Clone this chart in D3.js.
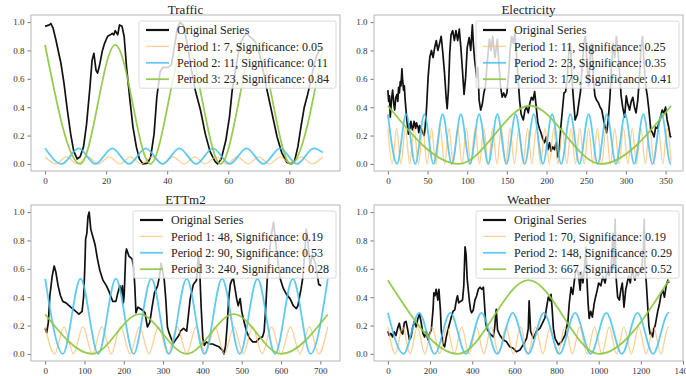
<!DOCTYPE html>
<html>
<head>
<meta charset="utf-8">
<script src="https://cdn.jsdelivr.net/npm/d3@7"></script>
<style>
  body { margin: 0; background: #fff; }
  svg text { font-family: "Liberation Serif", "Times New Roman", serif; }
</style>
</head>
<body>
<svg id="chart" width="686" height="376"></svg>
<script>
// ---- data: [x, value] ----
const trafficOrig = [[0,0.97],[1.4,0.98],[1.9,0.99],[2.6,0.96],[3.6,0.87],[4.3,0.8],[5.2,0.71],[6.2,0.57],[7.3,0.38],[8.4,0.21],[9.4,0.09],[10.5,0.035],[11.5,0.05],[12.6,0.12],[13.6,0.28],[14.7,0.54],[15.4,0.73],[16,0.78],[16.7,0.66],[17.2,0.64],[17.8,0.69],[18.8,0.8],[19.5,0.85],[20.5,0.9],[21.4,0.91],[22,0.92],[22.5,0.91],[23,0.94],[23.8,0.91],[24.4,0.98],[25.2,0.97],[25.9,0.9],[26.7,0.68],[27.8,0.45],[28.8,0.26],[29.9,0.12],[30.9,0.035],[32.1,0],[33.6,0.005],[34.6,0.05],[35.7,0.21],[36.6,0.47],[37.7,0.65],[38.5,0.68],[40.4,0.68],[41.4,0.7],[42.3,0.82],[43.3,0.95],[44.2,1.0],[45.2,0.98],[46.1,0.9],[47.1,0.78],[48,0.66],[49.2,0.52],[50.9,0.38],[52.5,0.21],[54,0.09],[55.6,0.02],[56.5,0],[57.7,0.035],[59.2,0.165],[60.4,0.33],[61.3,0.52],[62.3,0.65],[63.2,0.77],[64.2,0.86],[65.1,0.9],[66.1,0.92],[67,0.9],[68,0.88],[68.9,0.86],[69.9,0.8],[70.8,0.72],[71.8,0.62],[72.7,0.52],[73.9,0.4],[75,0.29],[76,0.19],[77.5,0.08],[79.2,0.01],[80.7,0],[81.7,0.02],[82.8,0.12],[83.8,0.26],[84.9,0.4],[86,0.49],[87,0.58],[87.9,0.68],[88.9,0.76],[89.8,0.8],[91,0.82]];
const trafficP1 = [[0,.05],[3.5,0],[7,.05],[10.5,0],[14,.05],[17.5,0],[21,.05],[24.5,0],[28,.05],[31.5,0],[35,.05],[38.5,0],[42,.05],[45.5,0],[49,.05],[52.5,0],[56,.05],[59.5,0],[63,.05],[66.5,0],[70,.05],[73.5,0],[77,.05],[80.5,0],[84,.05],[87.5,0],[91,.05]];
const trafficP2 = [[0,.11],[5.5,0],[11,.11],[16.5,0],[22,.11],[27.5,0],[33,.11],[38.5,0],[44,.11],[49.5,0],[55,.11],[60.5,0],[66,.11],[71.5,0],[77,.11],[82.5,0],[88,.11],[91,.08]];
const trafficP3 = [[0,.84],[11.5,0],[23,.84],[34.5,0],[46,.84],[57.5,0],[69,.84],[80.5,0],[91,.82]];

const elecOrig = [[0,0.52],[1,0.44],[2,0.48],[3,0.33],[4.5,0.45],[6,0.52],[7.5,0.42],[8.6,0.38],[10,0.47],[11.5,0.49],[12.5,0.44],[13.5,0.54],[14.5,0.5],[15.6,0.58],[16.5,0.55],[17.7,0.67],[18.5,0.6],[19.7,0.52],[20.7,0.55],[21.8,0.45],[23.9,0.31],[25.9,0.21],[27,0.28],[28,0.25],[29,0.3],[30,0.27],[31,0.24],[32,0.26],[33,0.3],[34,0.28],[35,0.25],[36,0.29],[37,0.27],[38,0.26],[39,0.22],[40,0.27],[41.3,0.25],[42.5,0.24],[44,0.22],[45.8,0.2],[47,0.26],[48.6,0.38],[50.7,0.61],[52.8,0.75],[54.9,0.8],[57,0.75],[59,0.82],[61,0.87],[63,0.8],[65.2,0.85],[67.2,0.9],[69.3,0.78],[71.4,0.64],[73.4,0.47],[74.7,0.39],[76.3,0.52],[78,0.78],[79.6,0.91],[81.7,0.94],[83.8,0.87],[85.8,0.94],[88,0.87],[90,0.95],[92,0.82],[94,0.66],[96,0.49],[98,0.61],[100,0.82],[102.4,0.89],[104.4,0.8],[106.5,0.98],[107.7,0.85],[109.4,0.73],[112,0.61],[113.5,0.68],[115,0.45],[117,0.38],[119,0.42],[121,0.5],[123,0.55],[125,0.7],[128,0.88],[130,0.8],[132,0.9],[135,0.75],[138,0.88],[140,0.7],[142,0.55],[144,0.47],[146,0.5],[148,0.47],[150,0.5],[152,0.62],[154,0.8],[156,0.9],[158,0.85],[160,0.92],[163,0.7],[166,0.45],[168,0.35],[170.7,0.31],[172.8,0.38],[174.8,0.4],[177,0.36],[179,0.43],[181,0.47],[183,0.45],[185,0.51],[187,0.4],[189,0.29],[191,0.25],[193,0.22],[195,0.18],[197.5,0.15],[199.5,0.19],[201.6,0.1],[203.7,0.15],[205.5,0.09],[207.8,0.12],[210,0.1],[212,0.15],[214,0.05],[216,0.1],[218,0.26],[220,0.38],[222,0.5],[224,0.51],[226,0.6],[228,0.78],[230,0.85],[232,0.6],[234,0.45],[236,0.31],[238.7,0.35],[240.7,0.43],[242.8,0.51],[245,0.7],[247,0.85],[249,0.9],[251,0.7],[253,0.55],[255,0.75],[257,0.85],[259,0.6],[261,0.48],[263,0.45],[265.5,0.43],[267.5,0.4],[269.6,0.38],[271.6,0.32],[273.7,0.26],[275.8,0.22],[277.8,0.31],[280,0.48],[282,0.7],[284,0.85],[286,0.75],[288,0.9],[290,0.8],[292,0.65],[294,0.48],[296,0.4],[298.4,0.33],[300.5,0.48],[302.5,0.42],[304.6,0.38],[306.7,0.44],[308.7,0.47],[310.8,0.4],[312.8,0.36],[315,0.45],[317,0.6],[319,0.82],[321,0.9],[323,0.7],[325,0.55],[327,0.48],[329,0.38],[331.4,0.24],[333.5,0.22],[335.5,0.19],[337.6,0.26],[339.7,0.25],[341.7,0.29],[343.8,0.33],[345.8,0.38],[348,0.36],[350,0.4],[352,0.31],[354,0.26],[356,0.19],[357,0.2]];
const elecP1 = [[0,.25],[5.5,0],[11,.25],[16.5,0],[22,.25],[27.5,0],[33,.25],[38.5,0],[44,.25],[49.5,0],[55,.25],[60.5,0],[66,.25],[71.5,0],[77,.25],[82.5,0],[88,.25],[93.5,0],[99,.25],[104.5,0],[110,.25],[115.5,0],[121,.25],[126.5,0],[132,.25],[137.5,0],[143,.25],[148.5,0],[154,.25],[159.5,0],[165,.25],[170.5,0],[176,.25],[181.5,0],[187,.25],[192.5,0],[198,.25],[203.5,0],[209,.25],[214.5,0],[220,.25],[225.5,0],[231,.25],[236.5,0],[242,.25],[247.5,0],[253,.25],[258.5,0],[264,.25],[269.5,0],[275,.25],[280.5,0],[286,.25],[291.5,0],[297,.25],[302.5,0],[308,.25],[313.5,0],[319,.25],[324.5,0],[330,.25],[335.5,0],[341,.25],[346.5,0],[352,.25],[357,.01]];
const elecP2 = [[0,.35],[11.5,0],[23,.35],[34.5,0],[46,.35],[57.5,0],[69,.35],[80.5,0],[92,.35],[103.5,0],[115,.35],[126.5,0],[138,.35],[149.5,0],[161,.35],[172.5,0],[184,.35],[195.5,0],[207,.35],[218.5,0],[230,.35],[241.5,0],[253,.35],[264.5,0],[276,.35],[287.5,0],[299,.35],[310.5,0],[322,.35],[333.5,0],[345,.35],[356.5,0],[357,0]];
const elecP3 = [[0,.41],[89.5,0],[179,.41],[268.5,0],[357,.41]];

const ettOrig = [[0,0.18],[4,0.15],[8,0.22],[12,0.41],[18,0.55],[23,0.62],[27,0.58],[33,0.48],[39,0.41],[45,0.37],[53,0.36],[65,0.33],[78,0.3],[86,0.28],[94,0.3],[98,0.41],[101,0.62],[103,0.81],[106,0.85],[109,0.97],[112,1.0],[116,0.88],[121,0.83],[127,0.77],[133,0.67],[139,0.59],[147,0.52],[156,0.48],[164,0.43],[172,0.37],[180,0.37],[184,0.42],[190,0.48],[194,0.43],[196.5,0.48],[199,0.36],[201,0.41],[205,0.71],[207,0.74],[213,0.69],[221,0.67],[225,0.62],[228,0.48],[231,0.29],[236,0.33],[241,0.32],[247,0.31],[254,0.29],[260,0.19],[266,0.22],[272,0.33],[278,0.43],[286,0.48],[291,0.55],[295,0.64],[299,0.58],[303,0.52],[307,0.38],[311,0.19],[315,0.15],[319,0.12],[326,0.075],[332,0.1],[340,0.13],[344,0.16],[352,0.18],[360,0.16],[369,0.39],[377,0.49],[385,0.52],[390,0.7],[393,0.6],[397,0.32],[401,0.11],[405,0.06],[410,0.085],[418,0.07],[426,0.07],[434,0.06],[442,0.05],[451,0.026],[455,0],[459,0.06],[463,0.2],[467,0.39],[471,0.49],[475,0.52],[479,0.53],[483,0.46],[487,0.39],[491,0.34],[496,0.39],[500,0.3],[504,0.25],[512,0.16],[520,0.11],[528,0.085],[537,0.085],[545,0.11],[553,0.12],[557,0.16],[561,0.32],[565,0.53],[570,0.7],[576,0.85],[581,0.93],[586,0.8],[592,0.65],[598,0.53],[606,0.46],[614,0.42],[623,0.39],[631,0.34],[639,0.32],[643,0.34],[651,0.46],[655,0.53],[660,0.7],[664,0.88],[668,0.8],[674,0.62],[680,0.7],[688,0.63],[696,0.49],[702,0.48]];
const ettP1 = [[0,.19],[24,0],[48,.19],[72,0],[96,.19],[120,0],[144,.19],[168,0],[192,.19],[216,0],[240,.19],[264,0],[288,.19],[312,0],[336,.19],[360,0],[384,.19],[408,0],[432,.19],[456,0],[480,.19],[504,0],[528,.19],[552,0],[576,.19],[600,0],[624,.19],[648,0],[672,.19],[696,0],[719,.19]];
const ettP2 = [[0,.53],[45,0],[90,.53],[135,0],[180,.53],[225,0],[270,.53],[315,0],[360,.53],[405,0],[450,.53],[495,0],[540,.53],[585,0],[630,.53],[675,0],[719,.53]];
const ettP3 = [[0,.28],[120,0],[240,.28],[360,0],[480,.28],[600,0],[719,.28]];

const weatherOrig = [[0,0.16],[6,0.13],[14,0.144],[22,0.12],[30,0.156],[38,0.13],[46,0.18],[54,0.216],[62,0.156],[70,0.14],[78,0.22],[86,0.23],[94,0.17],[102,0.1],[110,0.12],[118,0.19],[126,0.23],[134,0.19],[142,0.25],[150,0.28],[158,0.22],[166,0.144],[174,0.12],[182,0.156],[190,0.1],[198,0.144],[206,0.17],[214,0.31],[218,0.43],[223,0.41],[229,0.456],[237,0.38],[242,0.456],[249,0.31],[253,0.17],[261,0.07],[269,0.05],[277,0.12],[285,0.17],[293,0.216],[301,0.26],[309,0.3],[317,0.31],[325,0.38],[330,0.41],[336,0.36],[344,0.37],[354,0.38],[360,0.48],[366,0.755],[371,0.7],[376,0.53],[381,0.456],[386,0.38],[392,0.31],[397,0.29],[405,0.31],[413,0.38],[421,0.41],[429,0.456],[437,0.47],[445,0.456],[453,0.47],[457,0.38],[464,0.216],[472,0.17],[484,0.144],[492,0.13],[500,0.12],[506,0.18],[514,0.315],[520,0.17],[530,0.135],[546,0.1],[562,0.088],[578,0.05],[594,0.04],[610,0.016],[626,0.028],[642,0.064],[658,0.11],[666,0.18],[670,0.375],[677,0.16],[690,0.11],[705,0.16],[721,0.18],[737,0.23],[745,0.255],[753,0.33],[761,0.4],[769,0.375],[774,0.42],[780,0.3],[785,0.18],[793,0.11],[809,0.064],[825,0.088],[841,0.135],[854,0.23],[860,0.35],[869,0.47],[877,0.42],[885,0.52],[892,0.59],[900,0.59],[905,0.55],[912,0.45],[918,0.58],[925,0.5],[932,0.6],[940,0.75],[945,0.5],[950,0.35],[955,0.25],[962,0.3],[970,0.26],[978,0.35],[985,0.4],[993,0.45],[1000,0.5],[1010,0.48],[1020,0.55],[1030,0.5],[1040,0.58],[1050,0.55],[1060,0.62],[1068,0.85],[1072,0.6],[1078,0.95],[1082,0.55],[1090,0.4],[1098,0.38],[1105,0.45],[1112,0.5],[1120,0.33],[1128,0.45],[1135,0.5],[1142,0.55],[1150,0.5],[1158,0.6],[1165,0.55],[1172,0.52],[1180,0.58],[1188,0.55],[1196,0.6],[1204,0.58],[1212,0.75],[1216,0.95],[1220,0.6],[1226,0.5],[1232,0.35],[1238,0.2],[1244,0.14],[1250,0.15],[1256,0.12],[1262,0.18],[1268,0.2],[1274,0.25],[1280,0.3],[1288,0.35],[1296,0.42],[1304,0.45],[1312,0.4],[1320,0.48],[1328,0.52],[1333,0.5]];
const weatherP1 = [[0,.19],[35,0],[70,.19],[105,0],[140,.19],[175,0],[210,.19],[245,0],[280,.19],[315,0],[350,.19],[385,0],[420,.19],[455,0],[490,.19],[525,0],[560,.19],[595,0],[630,.19],[665,0],[700,.19],[735,0],[770,.19],[805,0],[840,.19],[875,0],[910,.19],[945,0],[980,.19],[1015,0],[1050,.19],[1085,0],[1120,.19],[1155,0],[1190,.19],[1225,0],[1260,.19],[1295,0],[1330,.19],[1333,.19]];
const weatherP2 = [[0,.29],[74,0],[148,.29],[222,0],[296,.29],[370,0],[444,.29],[518,0],[592,.29],[666,0],[740,.29],[814,0],[888,.29],[962,0],[1036,.29],[1110,0],[1184,.29],[1258,0],[1332,.29],[1333,.29]];
const weatherP3 = [[0,.52],[333.5,0],[667,.52],[1000.5,0],[1333,.52]];

const titles = ["Traffic", "Electricity", "ETTm2", "Weather"];
const legendLabels = [
  ["Original Series", "Period 1: 7, Significance: 0.05", "Period 2: 11, Significance: 0.11", "Period 3: 23, Significance: 0.84"],
  ["Original Series", "Period 1: 11, Significance: 0.25", "Period 2: 23, Significance: 0.35", "Period 3: 179, Significance: 0.41"],
  ["Original Series", "Period 1: 48, Significance: 0.19", "Period 2: 90, Significance: 0.53", "Period 3: 240, Significance: 0.28"],
  ["Original Series", "Period 1: 70, Significance: 0.19", "Period 2: 148, Significance: 0.29", "Period 3: 667, Significance: 0.52"]
];
const xTicks = [
  [0, 20, 40, 60, 80],
  [0, 50, 100, 150, 200, 250, 300, 350],
  [0, 100, 200, 300, 400, 500, 600, 700],
  [0, 200, 400, 600, 800, 1000, 1200, 1400]
];
const yTicks = [0, 0.2, 0.4, 0.6, 0.8, 1.0];

const colors = ["#111111", "#fbbf6e", "#45c1f2", "#8cc63f"];
const widths = [1.7, 1.3, 1.8, 1.8];
const opac = [1, 0.75, 0.85, 0.9];
const serif = '"Liberation Serif", "Times New Roman", serif';

const panels = [
  { series: [trafficOrig, trafficP1, trafficP2, trafficP3], xDom: [-4.6, 96.6], box: [31, 15, 340, 171] },
  { series: [elecOrig, elecP1, elecP2, elecP3], xDom: [-17.5, 372], box: [374, 15, 683, 171] },
  { series: [ettOrig, ettP1, ettP2, ettP3], xDom: [-36, 750], box: [31, 205, 340, 361] },
  { series: [weatherOrig, weatherP1, weatherP2, weatherP3], xDom: [-66, 1400], box: [374, 205, 683, 361] }
];

const svg = d3.select("#chart");

panels.forEach((p, i) => {
  const [x0, y0, x1, y1] = p.box;
  const x = d3.scaleLinear().domain(p.xDom).range([x0, x1]);
  const y = d3.scaleLinear().domain([-0.05, 1.05]).range([y1, y0]);

  const clipId = "clip" + i;
  svg.append("clipPath").attr("id", clipId)
    .append("rect").attr("x", x0).attr("y", y0).attr("width", x1 - x0).attr("height", y1 - y0);

  // axes
  const gx = svg.append("g")
    .attr("transform", "translate(0," + y1 + ")")
    .call(d3.axisBottom(x).tickValues(xTicks[i]).tickSize(3.5).tickPadding(3).tickFormat(d3.format("d")));
  const gy = svg.append("g")
    .attr("transform", "translate(" + x0 + ",0)")
    .call(d3.axisLeft(y).tickValues(yTicks).tickSize(3.5).tickPadding(3).tickFormat(d3.format(".1f")));
  [gx, gy].forEach(g => {
    g.attr("font-family", serif).attr("font-size", 9);
    g.select(".domain").remove();
    g.selectAll(".tick line").attr("stroke", "#555").attr("stroke-width", 0.8);
    g.selectAll(".tick text").attr("fill", "#333");
  });

  const line = d3.line()
    .x(d => x(d[0]))
    .y(d => y(d[1]));

  const plot = svg.append("g").attr("clip-path", "url(#" + clipId + ")");
  p.series.forEach((s, k) => {
    plot.append("path")
      .datum(s)
      .attr("d", line.curve(k === 0 ? d3.curveLinear : d3.curveMonotoneX))
      .attr("fill", "none")
      .attr("stroke", colors[k])
      .attr("stroke-width", widths[k])
      .attr("stroke-opacity", opac[k])
      .attr("stroke-linejoin", "round");
  });

  // frame
  svg.append("rect")
    .attr("x", x0).attr("y", y0)
    .attr("width", x1 - x0).attr("height", y1 - y0)
    .attr("fill", "none").attr("stroke", "#b5b5b5").attr("stroke-width", 1);

  // title
  svg.append("text")
    .attr("x", (x0 + x1) / 2).attr("y", y0 - 1.5)
    .attr("text-anchor", "middle")
    .attr("font-family", serif)
    .style("font-size", "13px").attr("fill", "#222")
    .text(titles[i]);

  // legend
  const lg = svg.append("g");
  const bg = lg.append("rect");
  const rowH = 16.4;
  let maxW = 0;
  const items = lg.append("g");
  legendLabels[i].forEach((lab, k) => {
    const cy = rowH * k;
    items.append("line")
      .attr("x1", 0).attr("x2", 23).attr("y1", cy).attr("y2", cy)
      .attr("stroke", colors[k]).attr("stroke-width", k === 0 ? 2.2 : widths[k])
      .attr("stroke-opacity", opac[k]);
    const t = items.append("text")
      .attr("x", 31).attr("y", cy).attr("dy", "0.35em")
      .attr("font-family", serif)
      .style("font-size", "12px").attr("fill", "#222")
      .text(lab);
    maxW = Math.max(maxW, t.node().getComputedTextLength());
  });
  const w = 31 + maxW + 14;
  const h = rowH * 3 + 18;
  const lx = x1 - 4 - w, ly = y0 + 6;
  bg.attr("x", lx).attr("y", ly).attr("width", w).attr("height", h)
    .attr("rx", 2).attr("fill", "#fff").attr("fill-opacity", 0.8)
    .attr("stroke", "#d0d0d0").attr("stroke-width", 0.8);
  items.attr("transform", "translate(" + (lx + 7) + "," + (ly + 9) + ")");
});
</script>
</body>
</html>
